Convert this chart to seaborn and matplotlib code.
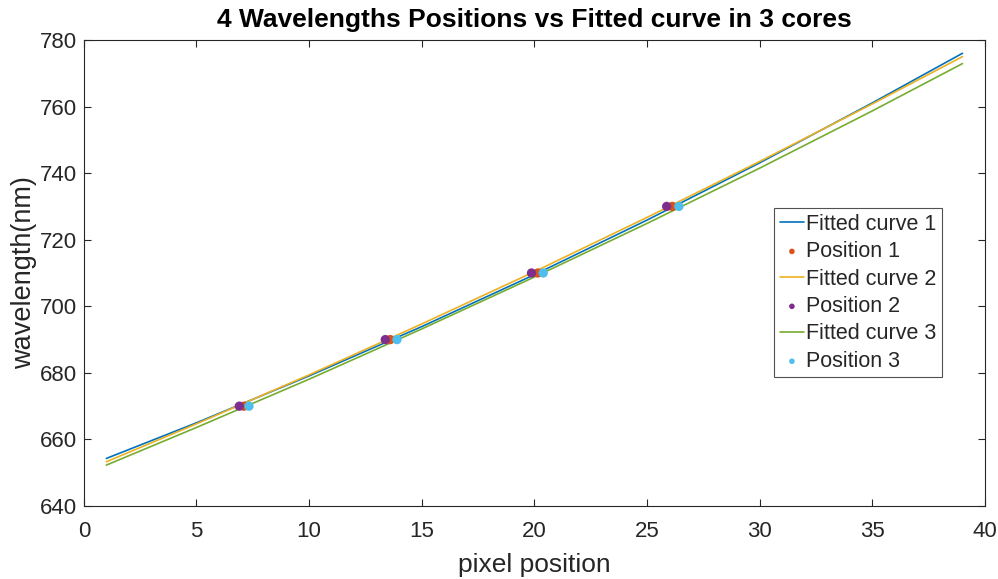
import matplotlib
matplotlib.use("Agg")
import matplotlib.pyplot as plt
import seaborn as sns
import pandas as pd

# Fitted curves
curve_x = [1, 5, 10, 15, 20, 25, 30, 35, 39]
curve1_y = [654.3, 665.0, 679.1, 693.9, 709.5, 725.9, 743.1, 761.1, 776.0]
curve2_y = [653.3, 664.7, 679.4, 694.7, 710.4, 726.7, 743.5, 760.8, 775.0]
curve3_y = [652.3, 663.6, 678.1, 693.2, 708.8, 724.9, 741.5, 758.7, 772.9]

# Measured positions
wavelengths = [670, 690, 710, 730]
pos1_x = [7.1, 13.6, 20.15, 26.12]
pos2_x = [6.9, 13.38, 19.87, 25.87]
pos3_x = [7.33, 13.9, 20.39, 26.41]

sns.set_theme(style="white")
plt.rcParams['font.family'] = ['Liberation Sans', 'DejaVu Sans']

c_blue, c_red, c_yel, c_pur, c_grn, c_cyan = "#0072BD", "#D95319", "#EDB120", "#7E2F8E", "#77AC30", "#4DBEEE"

fig = plt.figure(figsize=(9.98, 5.79), dpi=100)
ax = fig.add_axes([0.084, 0.126, 0.903, 0.805])

series = [
    (curve1_y, pos1_x, c_blue, c_red, "1"),
    (curve2_y, pos2_x, c_yel, c_pur, "2"),
    (curve3_y, pos3_x, c_grn, c_cyan, "3"),
]
for cy, px, lc, mc, n in series:
    dfc = pd.DataFrame({"x": curve_x, "y": cy})
    sns.lineplot(data=dfc, x="x", y="y", ax=ax, color=lc, linewidth=1.2,
                 label=f"Fitted curve {n}", sort=False)
    dfp = pd.DataFrame({"x": px, "y": wavelengths})
    sns.scatterplot(data=dfp, x="x", y="y", ax=ax, color=mc, s=45,
                    edgecolor="none", label=f"Position {n}", zorder=3)

ax.set_xlim(0, 40)
ax.set_ylim(640, 780)
ax.set_xticks(range(0, 41, 5))
ax.set_yticks(range(640, 781, 20))
ax.tick_params(direction="in", top=True, right=True, bottom=True, left=True,
               length=5, width=0.8, labelsize=16, colors="#262626")
ax.tick_params(axis="x", pad=10.5)
ax.tick_params(axis="y", pad=5)
for s in ax.spines.values():
    s.set_color("#262626")
    s.set_linewidth(0.8)
ax.set_xlabel("pixel position", fontsize=19, color="#262626", labelpad=8)
ax.set_ylabel("wavelength(nm)", fontsize=19.5, color="#262626", labelpad=2)
ax.set_title("4 Wavelengths Positions vs Fitted curve in 3 cores",
             fontsize=19, fontweight="bold", color="black", pad=9)

leg = ax.legend(loc="upper left", bbox_to_anchor=(0.766, 0.639), fontsize=15.5,
                frameon=True, fancybox=False, edgecolor="#262626",
                handlelength=1.15, borderpad=0.25, labelspacing=0.3,
                handletextpad=0.1, borderaxespad=0, markerscale=0.6)
leg.get_frame().set_linewidth(0.8)

fig.savefig("out.png", dpi=100)
